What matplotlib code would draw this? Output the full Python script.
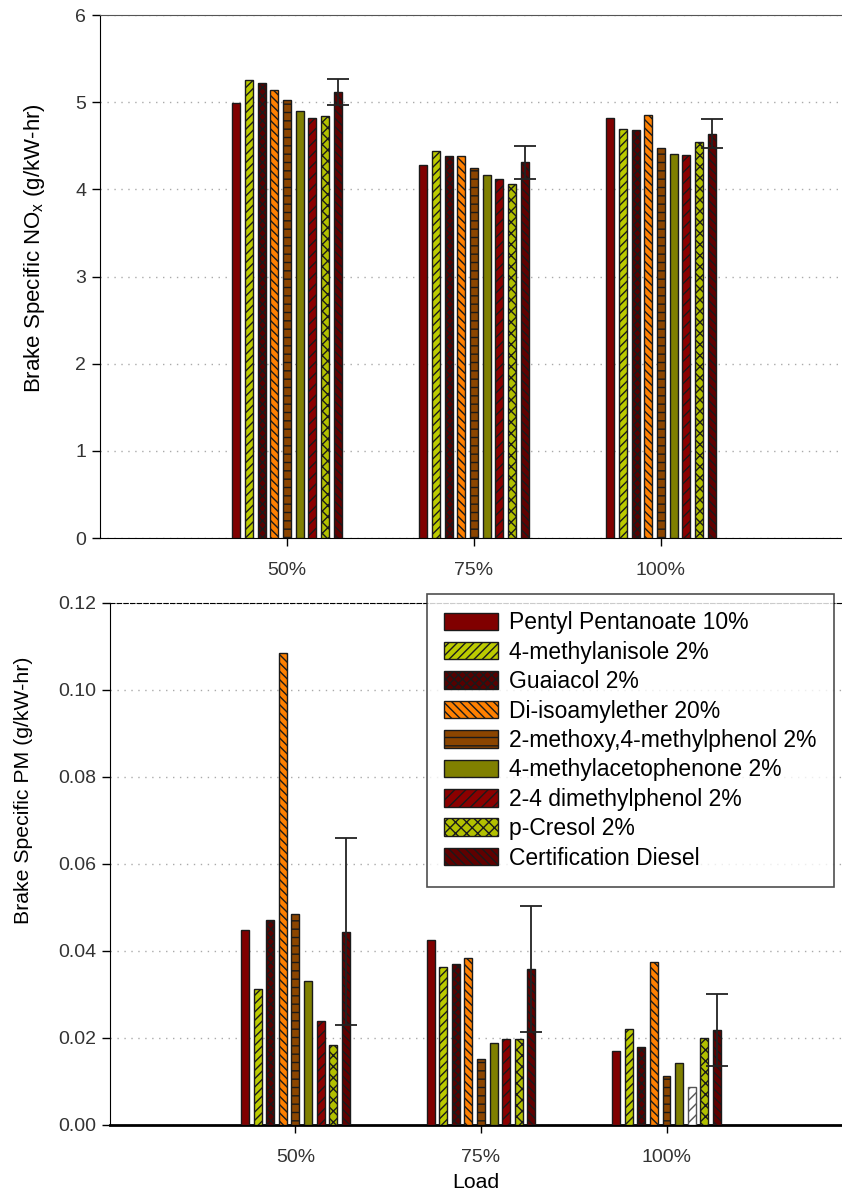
import numpy as np
import matplotlib
matplotlib.use('Agg')
import matplotlib.pyplot as plt
from matplotlib.patches import Patch

plt.rcParams['font.family'] = ['Liberation Sans', 'DejaVu Sans']
plt.rcParams['hatch.linewidth'] = 1.0

LOADS = ['50%', '75%', '100%']
FUELS = ['Pentyl Pentanoate 10%', '4-methylanisole 2%', 'Guaiacol 2%',
         'Di-isoamylether 20%', '2-methoxy,4-methylphenol 2%',
         '4-methylacetophenone 2%', '2-4 dimethylphenol 2%', 'p-Cresol 2%',
         'Certification Diesel']

# NOx (g/kW-hr), one list per load, one entry per fuel
NOX_50 = [4.99, 5.25, 5.22, 5.14, 5.02, 4.90, 4.82, 4.84, 5.12]
NOX_75 = [4.28, 4.44, 4.38, 4.38, 4.24, 4.16, 4.12, 4.06, 4.31]
NOX_100 = [4.82, 4.69, 4.68, 4.85, 4.47, 4.41, 4.39, 4.54, 4.64]
NOX_ERR = [0.15, 0.19, 0.17]   # Certification Diesel only

# PM (g/kW-hr)
PM_50 = [0.0448, 0.0312, 0.0471, 0.1084, 0.0484, 0.0332, 0.0240, 0.0185, 0.0444]
PM_75 = [0.0425, 0.0364, 0.0370, 0.0383, 0.0152, 0.0188, 0.0198, 0.0198, 0.0358]
PM_100 = [0.0169, 0.0221, 0.0179, 0.0375, 0.0113, 0.0142, 0.0087, 0.0201, 0.0218]
PM_ERR = [0.0215, 0.0145, 0.0083]

FACE = ['#800000', '#bccb00', '#580000', '#ff8000', '#8b4500',
        '#808000', '#8b0000', '#b2c000', '#600000']
HATCH = [None, '////', 'xxxx', '\\\\\\\\', '--', None, '///', 'xxx', '\\\\\\\\']
EDGE = '#1a1a1a'

PITCH = 0.068
WIDTH = 0.043


def draw_bars(ax, rows, errs, white_cells=()):
    x = np.arange(1, len(LOADS) + 1)
    n = len(FUELS)
    for i in range(n):
        xs = x + (i - (n - 1) / 2) * PITCH
        vals = [r[i] for r in rows]
        for j, (xx, v) in enumerate(zip(xs, vals)):
            fc = FACE[i]
            ec = EDGE
            if (j, i) in white_cells:
                fc, ec = 'white', '#555555'
            ax.bar(xx, v, WIDTH, color=fc, edgecolor=ec, hatch=HATCH[i],
                   linewidth=1.0, zorder=3)
        if i == n - 1:
            ax.errorbar(xs, vals, yerr=errs, fmt='none', ecolor='#222222',
                        elinewidth=1.3, capsize=8, capthick=1.3, zorder=4)


def style_axes(ax):
    ax.spines['right'].set_visible(False)
    ax.tick_params(axis='y', direction='out', length=6, width=1,
                   labelsize=14, labelcolor='#333333', pad=4)
    ax.tick_params(axis='x', direction='out', length=6, width=1,
                   labelsize=14, labelcolor='#333333', pad=11)
    ax.set_xticks(np.arange(1, len(LOADS) + 1))
    ax.set_xticklabels(LOADS)
    ax.yaxis.grid(True, linestyle=(0, (1, 4)), color='#aaaaaa', linewidth=1.0)
    ax.set_axisbelow(True)


fig = plt.figure(figsize=(8.42, 11.93), dpi=100)

# top: NOx
ax1 = fig.add_axes([0.1188, 0.549, 0.8812, 0.4384])
draw_bars(ax1, [NOX_50, NOX_75, NOX_100], NOX_ERR)
style_axes(ax1)
ax1.set_xlim(0, 3.968)
ax1.set_ylim(0, 6)
ax1.set_yticks(range(0, 7))
ax1.spines['top'].set_color('#555555')
ax1.set_ylabel('Brake Specific NO$_\\mathregular{x}$ (g/kW-hr)', fontsize=16)
ax1.yaxis.set_label_coords(-0.071, 0.554)

# bottom: PM
ax2 = fig.add_axes([0.1306, 0.0570, 0.8694, 0.4376])
draw_bars(ax2, [PM_50, PM_75, PM_100], PM_ERR, white_cells=[(2, 6)])
style_axes(ax2)
ax2.set_xlim(0, 3.946)
ax2.set_ylim(0, 0.12)
ax2.set_yticks(np.arange(0, 0.121, 0.02))
ax2.set_yticklabels([f'{v:.2f}' for v in np.arange(0, 0.121, 0.02)])
ax2.spines['top'].set_linestyle((0, (4, 2)))
ax2.spines['bottom'].set_linewidth(2.0)
ax2.set_ylabel('Brake Specific PM (g/kW-hr)', fontsize=15.3)
ax2.yaxis.set_label_coords(-0.105, 0.642)
ax2.set_xlabel('Load', fontsize=15.3, labelpad=5)

handles = [Patch(facecolor=FACE[i], edgecolor=EDGE, hatch=HATCH[i], label=FUELS[i])
           for i in range(len(FUELS))]
leg = ax2.legend(handles=handles, loc='upper left', bbox_to_anchor=(0.433, 1.017),
                 fontsize=16.5, frameon=True, fancybox=False, handlelength=2.35,
                 handleheight=0.8, labelspacing=0.28, borderpad=0.75,
                 handletextpad=0.5, borderaxespad=0)
leg.get_frame().set_edgecolor('#222222')
leg.get_frame().set_linewidth(1.2)
leg.set_zorder(10)

fig.savefig('out.png', dpi=100)
